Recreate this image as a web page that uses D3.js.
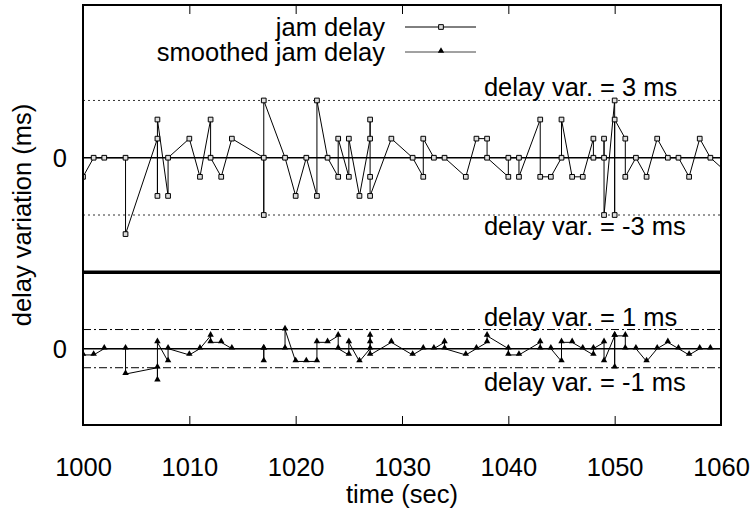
<!DOCTYPE html>
<html>
<head>
<meta charset="utf-8">
<script src="https://cdn.jsdelivr.net/npm/d3@7"></script>
<style>
  body { margin: 0; background: #fff; }
  text { font-family: "Liberation Sans", Arial, sans-serif; fill: #000; }
</style>
</head>
<body>
<svg id="chart" width="755" height="508"></svg>
<script>
// jam delay samples (time in sec, delay variation in ms), in drawing order
const jamTime = [1000, 1001, 1002, 1004, 1004, 1007, 1007, 1007, 1008, 1008,
  1010, 1011, 1012, 1012, 1013, 1014, 1017, 1017, 1017, 1019,
  1020, 1021, 1022, 1022, 1023, 1024, 1024, 1025, 1025, 1026,
  1027, 1027, 1027, 1027, 1029, 1031, 1032, 1032, 1033, 1034,
  1036, 1037, 1038, 1038, 1040, 1040, 1041, 1041, 1043, 1043,
  1044, 1045, 1045, 1046, 1047, 1048, 1048, 1049, 1049, 1049,
  1050, 1050, 1050, 1051, 1051, 1052, 1053, 1054, 1055, 1056,
  1057, 1058, 1059, 1061];
const jamValue = [-1, 0, 0, 0, -4, 1, -2, 2, -2, 0,
  1, -1, 2, 0, -1, 1, 0, -3, 3, 0,
  -2, 0, -2, 3, 0, -1, 1, -1, 1, -2,
  1, 2, -1, -2, 1, 0, -1, 1, 0, 0,
  -1, 1, 1, 0, -1, 0, 0, -1, 2, -1,
  -1, 0, 2, -1, -1, 1, 0, 0, 1, -3,
  3, -3, 2, 1, -1, 0, -1, 1, 0, 0,
  -1, 1, 0, -1];

// smoothed jam delay samples
const smoothTime = [1000, 1001, 1002, 1004, 1004, 1007, 1007, 1007, 1008, 1008,
  1010, 1011, 1012, 1012, 1013, 1014, 1017, 1017, 1017, 1019,
  1019, 1020, 1021, 1022, 1022, 1023, 1024, 1024, 1025, 1025,
  1026, 1027, 1027, 1027, 1027, 1029, 1031, 1032, 1033, 1034,
  1034, 1036, 1037, 1038, 1038, 1040, 1040, 1041, 1043, 1043,
  1044, 1045, 1045, 1046, 1047, 1048, 1048, 1049, 1049, 1050,
  1050, 1050, 1051, 1051, 1052, 1053, 1054, 1055, 1056, 1057,
  1058, 1059, 1061];
const smoothValue = [-0.33, -0.33, 0, 0, -1.33, -1, -1.67, 0.33, -0.67, 0,
  -0.33, 0, 0.67, 0.33, 0.33, 0, 0, -0.67, 0, 0,
  1, -0.67, -0.67, -0.67, 0.33, 0.33, 0.67, 0, -0.33, 0.33,
  -0.67, 0, 0.67, 0.33, -0.33, 0.33, -0.33, 0, 0, 0.33,
  0, -0.33, 0, 0.33, 0.67, 0, -0.33, -0.33, 0.33, 0,
  0, -0.67, 0.33, 0.33, 0, -0.33, 0, 0.33, -0.67, 0.67,
  -1, 0.67, 0.67, 0, 0, -0.67, 0, 0.33, 0, -0.33,
  0, 0, 0];

// reference lines and their labels
const jamLimits = [3, -3];
const jamLimitLabels = ['delay var. = 3 ms', 'delay var. = -3 ms'];
const smoothLimits = [1, -1];
const smoothLimitLabels = ['delay var. = 1 ms', 'delay var. = -1 ms'];

const xTicks = [1000, 1010, 1020, 1030, 1040, 1050, 1060];
const legendLabels = ['jam delay', 'smoothed jam delay'];

// the smoothed curve is drawn 10 ms below the jam delay curve
const smoothOffset = -10;
const panelSplit = -6;

const svg = d3.select('#chart');
const margin = { left: 83, right: 721, top: 5, bottom: 425 };
const fontSize = 25.5;

const x = d3.scaleLinear().domain([1000, 1060]).range([margin.left, margin.right]);
const y = d3.scaleLinear().domain([-14, 8]).range([margin.bottom, margin.top]);

svg.append('clipPath').attr('id', 'clip')
  .append('rect')
  .attr('x', margin.left).attr('y', margin.top)
  .attr('width', margin.right - margin.left).attr('height', margin.bottom - margin.top);

const plot = svg.append('g').attr('clip-path', 'url(#clip)');

// +-3 ms dotted lines
plot.selectAll('line.lim3')
  .data(jamLimits)
  .enter()
  .append('line')
  .attr('x1', margin.left).attr('x2', margin.right)
  .attr('y1', d => y(d)).attr('y2', d => y(d))
  .attr('stroke', '#333')
  .attr('stroke-width', 1)
  .attr('stroke-dasharray', '2,3');

// +-1 ms dash-dot lines
plot.selectAll('line.lim1')
  .data(smoothLimits)
  .enter()
  .append('line')
  .attr('x1', margin.left).attr('x2', margin.right)
  .attr('y1', d => y(d + smoothOffset)).attr('y2', d => y(d + smoothOffset))
  .attr('stroke', '#000')
  .attr('stroke-width', 1)
  .attr('stroke-dasharray', '8,3,2,3');

// zero lines
plot.selectAll('line.zero')
  .data([0, smoothOffset])
  .enter()
  .append('line')
  .attr('x1', margin.left).attr('x2', margin.right)
  .attr('y1', d => y(d)).attr('y2', d => y(d))
  .attr('stroke', '#000')
  .attr('stroke-width', 1.5);

// thick line separating the two curves
svg.append('line')
  .attr('x1', margin.left).attr('x2', margin.right)
  .attr('y1', y(panelSplit)).attr('y2', y(panelSplit))
  .attr('stroke', '#000')
  .attr('stroke-width', 3.5);

const jamData = jamTime.map((t, i) => ({ t, v: jamValue[i] }));
const smoothData = smoothTime.map((t, i) => ({ t, v: smoothValue[i] + smoothOffset }));

const line = d3.line().x(d => x(d.t)).y(d => y(d.v));

plot.append('path')
  .datum(jamData)
  .attr('d', line)
  .attr('fill', 'none')
  .attr('stroke', '#000')
  .attr('stroke-width', 1);

plot.append('path')
  .datum(smoothData)
  .attr('d', line)
  .attr('fill', 'none')
  .attr('stroke', '#000')
  .attr('stroke-width', 1);

const square = d3.symbol().type(d3.symbolSquare).size(22);
const triangle = d3.symbol().type(d3.symbolTriangle).size(18);

plot.selectAll('path.sq')
  .data(jamData)
  .enter()
  .append('path')
  .attr('d', square)
  .attr('transform', d => `translate(${x(d.t)},${y(d.v)})`)
  .attr('fill', '#ddd')
  .attr('stroke', '#000')
  .attr('stroke-width', 1);

plot.selectAll('path.tri')
  .data(smoothData)
  .enter()
  .append('path')
  .attr('d', triangle)
  .attr('transform', d => `translate(${x(d.t)},${y(d.v) - 1})`)
  .attr('fill', '#000');

// labels of the reference lines
const labelX = x(1037.7);
svg.selectAll('text.lim3')
  .data(jamLimits)
  .enter()
  .append('text')
  .attr('x', labelX)
  .attr('y', d => y(d) + (d > 0 ? -13 : 11))
  .attr('dominant-baseline', 'central')
  .style('font-size', fontSize + 'px')
  .text((d, i) => jamLimitLabels[i]);

svg.selectAll('text.lim1')
  .data(smoothLimits)
  .enter()
  .append('text')
  .attr('x', labelX)
  .attr('y', d => y(d + smoothOffset) + (d > 0 ? -13 : 14))
  .attr('dominant-baseline', 'central')
  .style('font-size', fontSize + 'px')
  .text((d, i) => smoothLimitLabels[i]);

// frame
svg.append('rect')
  .attr('x', margin.left).attr('y', margin.top)
  .attr('width', margin.right - margin.left).attr('height', margin.bottom - margin.top)
  .attr('fill', 'none')
  .attr('stroke', '#000')
  .attr('stroke-width', 2);

// x ticks, inward on bottom and top
svg.append('g')
  .attr('transform', `translate(0,${margin.bottom})`)
  .call(d3.axisBottom(x).tickValues(xTicks).tickSize(-9).tickFormat(d3.format('d')).tickPadding(33))
  .call(g => g.select('.domain').remove())
  .call(g => g.selectAll('text').style('font-size', fontSize + 'px').attr('font-family', null))
  .call(g => g.selectAll('line').attr('stroke-width', 1));

svg.append('g')
  .attr('transform', `translate(0,${margin.top})`)
  .call(d3.axisTop(x).tickValues(xTicks).tickSize(-9).tickFormat(''))
  .call(g => g.select('.domain').remove())
  .call(g => g.selectAll('line').attr('stroke-width', 1));

// y tick labels: both curves have their own zero
svg.selectAll('text.ylab')
  .data([0, smoothOffset])
  .enter()
  .append('text')
  .attr('x', margin.left - 16)
  .attr('y', d => y(d))
  .attr('text-anchor', 'end')
  .attr('dominant-baseline', 'central')
  .style('font-size', fontSize + 'px')
  .text('0');

// axis titles
svg.append('text')
  .attr('x', (margin.left + margin.right) / 2)
  .attr('y', 503)
  .attr('text-anchor', 'middle')
  .style('font-size', fontSize + 'px')
  .text('time (sec)');

svg.append('text')
  .attr('transform', `translate(31,${y(-3)}) rotate(-90)`)
  .attr('text-anchor', 'middle')
  .style('font-size', fontSize + 'px')
  .text('delay variation (ms)');

// legend
const legend = svg.append('g');
legendLabels.forEach((name, i) => {
  const ly = 27 + i * 25;
  legend.append('text')
    .attr('x', 385).attr('y', ly)
    .attr('text-anchor', 'end')
    .attr('dominant-baseline', 'central')
    .style('font-size', fontSize + 'px')
    .text(name);
  legend.append('line')
    .attr('x1', 405).attr('x2', 476)
    .attr('y1', ly).attr('y2', ly)
    .attr('stroke', i === 0 ? '#000' : '#444')
    .attr('stroke-width', 1);
  legend.append('path')
    .attr('d', i === 0 ? square() : triangle())
    .attr('transform', `translate(441,${ly - (i === 0 ? 0 : 1)})`)
    .attr('fill', i === 0 ? '#ddd' : '#000')
    .attr('stroke', i === 0 ? '#000' : 'none');
});
</script>
</body>
</html>
